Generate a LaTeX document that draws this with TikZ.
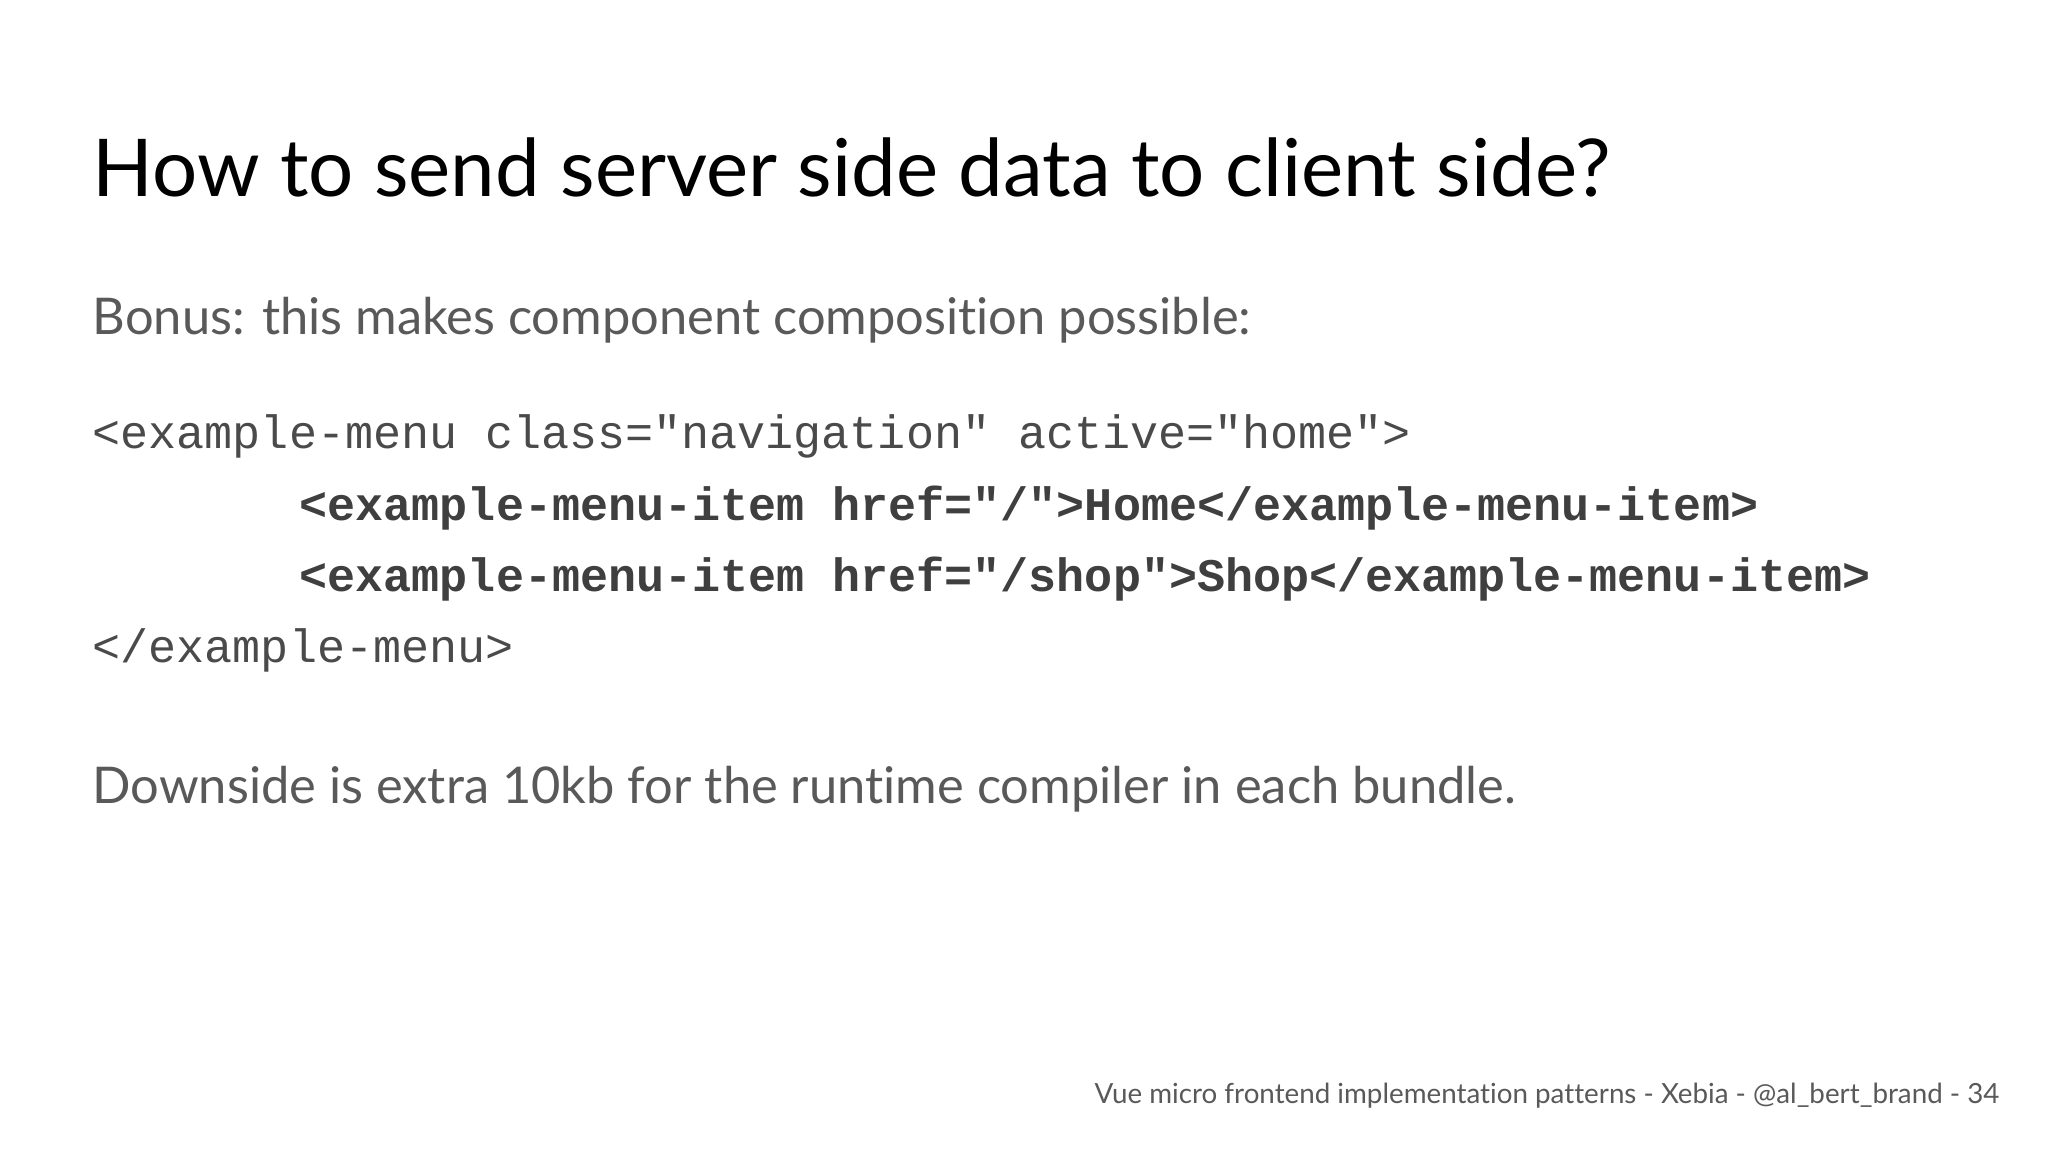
\documentclass[tikz,border=0pt]{standalone}
\usepackage{fontspec}
\setmainfont{Lato}[Ligatures=NoCommon]
\setmonofont{Liberation Mono}
\usetikzlibrary{positioning}
\definecolor{bodygray}{HTML}{595959}
\definecolor{codegray}{HTML}{4A4A4A}
\tikzset{
	every node/.append style={
		inner sep=0pt,
		anchor=base west,
	},
	title/.style={
		font={\fontsize{22.7}{27}\selectfont},
		text=black,
	},
	body/.style={
		font={\fontsize{14.4}{18}\selectfont},
		text=bodygray,
	},
	code/.style={
		font={\ttfamily\fontsize{13.3}{16}\selectfont},
		text=codegray,
	},
	codebold/.style={
		code,
		font={\ttfamily\bfseries\fontsize{13.3}{16}\selectfont},
		text=codegray!85!black,
	},
	footer/.style={
		font={\fontsize{7.9}{10}\selectfont},
		text=bodygray,
		anchor=base east,
	}
}
\begin{document}
\begin{tikzpicture}[x=1cm,y=-1cm]
\useasboundingbox[fill=white] (0,0) rectangle (20.48,11.52);

\node(head)[title] at (0.92,1.97) {How to send server side data to client side?};

\node(bonus)[body] at (0.92,3.35) {Bonus: this makes component composition possible:};

\node(code1)[code] at (0.92,4.49) {<example-menu class="navigation" active="home">};
\node(code2)[codebold] at (2.99,5.21) {<example-menu-item href="/">Home</example-menu-item>};
\node(code3)[codebold] at (2.99,5.92) {<example-menu-item href="/shop">Shop</example-menu-item>};
\node(code4)[code] at (0.92,6.63) {</example-menu>};

\node(down)[body] at (0.92,8.04) {Downside is extra 10kb for the runtime compiler in each bundle.};

\node(foot)[footer] at (20.0,11.03) {Vue micro frontend implementation patterns - Xebia - @al\_bert\_brand - 34};
\end{tikzpicture}
\end{document}
